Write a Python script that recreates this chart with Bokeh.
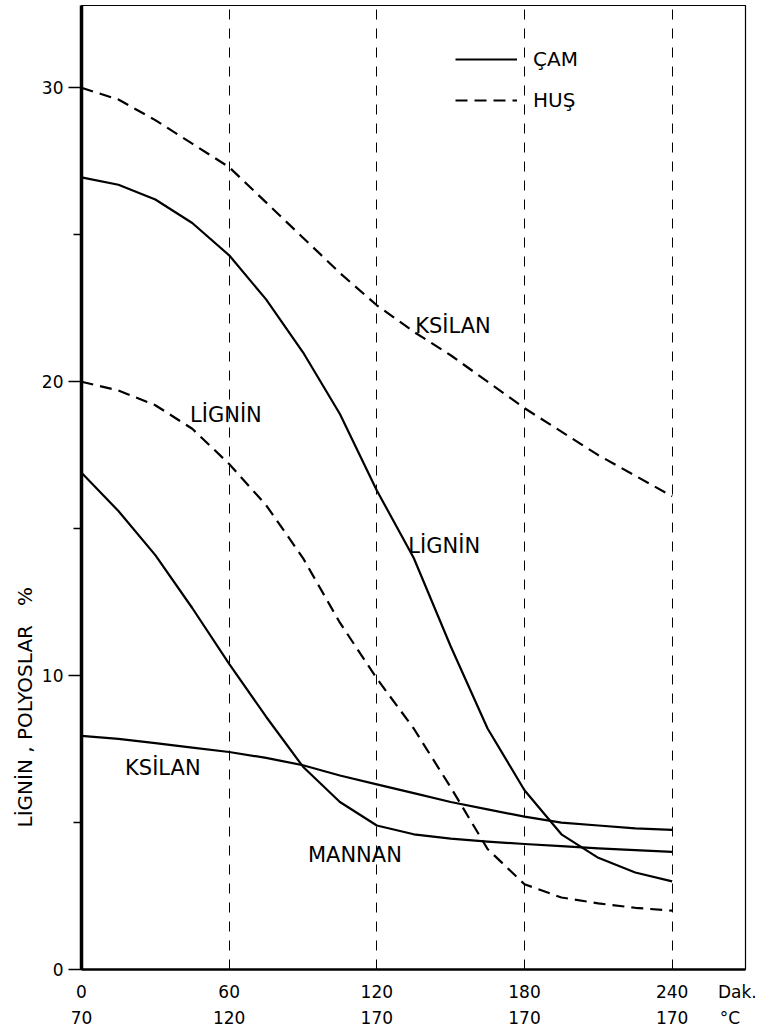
from bokeh.plotting import figure
from bokeh.models import (Range1d, LinearAxis, FixedTicker, Grid, Legend,
                          LegendItem, ColumnDataSource, Title)
from bokeh.core.properties import value
from bokeh.embed import file_html
from bokeh.resources import INLINE

# ---------------- data ----------------
minutes = [0, 15, 30, 45, 60, 75, 90, 105, 120, 135, 150, 165, 180, 195, 210, 225, 240]

hus_ksilan = [30.0, 29.6, 28.9, 28.1, 27.3, 26.1, 24.9, 23.7, 22.6, 21.7, 20.9, 20.0, 19.1, 18.3, 17.5, 16.8, 16.1]
cam_lignin = [26.95, 26.7, 26.2, 25.4, 24.3, 22.8, 21.0, 18.9, 16.3, 14.0, 11.0, 8.2, 6.1, 4.6, 3.8, 3.3, 3.0]
hus_lignin = [20.0, 19.7, 19.2, 18.4, 17.2, 15.8, 14.0, 11.8, 9.9, 8.2, 6.2, 4.1, 2.9, 2.45, 2.25, 2.1, 2.0]
cam_mannan = [16.9, 15.6, 14.1, 12.3, 10.4, 8.6, 6.9, 5.7, 4.9, 4.6, 4.45, 4.35, 4.27, 4.2, 4.12, 4.06, 4.0]
cam_ksilan = [7.95, 7.85, 7.7, 7.55, 7.4, 7.2, 6.95, 6.6, 6.3, 6.0, 5.7, 5.45, 5.2, 5.0, 4.9, 4.8, 4.75]

x_ticks = [0, 60, 120, 180, 240]
x_time_labels = ["0", "60", "120", "180", "240"]
x_temp_labels = ["70", "120", "170", "170", "170"]
y_ticks = [0, 10, 20, 30]
y_minor = [5, 15, 25]

series_labels = ["KSİLAN", "LİGNİN", "LİGNİN", "KSİLAN", "MANNAN"]
legend_labels = ["ÇAM", "HUŞ"]
y_title = "LİGNİN , POLYOSLAR\u00a0\u00a0\u00a0%"

# ---------------- figure ----------------
FONT = "DejaVu Sans"
p = figure(frame_width=664, frame_height=964,
           min_border_left=81, min_border_right=22, min_border_top=5, min_border_bottom=59,
           x_range=Range1d(0, 269.8), y_range=Range1d(0, 32.8),
           x_axis_type=None, y_axis_type=None,
           output_backend="svg", toolbar_location=None)
p.background_fill_color = "white"
p.border_fill_color = "white"
p.outline_line_color = "black"
p.outline_line_width = 1.2

# vertical dashed reference lines
grid = Grid(dimension=0, ticker=FixedTicker(ticks=x_ticks[1:]))
grid.grid_line_color = "black"
grid.grid_line_width = 1
grid.grid_line_dash = "10 9"
p.add_layout(grid)

# y axis
yax = LinearAxis(ticker=FixedTicker(ticks=y_ticks, minor_ticks=y_minor))
yax.axis_line_width = 3.5
yax.axis_line_color = "black"
yax.major_tick_out = 13
yax.major_tick_in = 0
yax.minor_tick_out = 8
yax.minor_tick_in = 0
yax.major_tick_line_width = 1.5
yax.minor_tick_line_width = 1.5
yax.major_label_standoff = 5
yax.major_label_text_font = FONT
yax.major_label_text_font_size = "17px"
yax.major_label_text_color = "black"
p.add_layout(yax, "left")

# y axis title
p.add_layout(Title(text=y_title, align="left", offset=142, text_font=FONT,
                   text_font_size="20px", text_font_style="normal",
                   text_color="black", standoff=4), "left")

# x axis: minutes row
dak_pos = 266.5
xax = LinearAxis(ticker=FixedTicker(ticks=x_ticks + [dak_pos]))
over1 = {t: s for t, s in zip(x_ticks, x_time_labels)}
over1[dak_pos] = "Dak."
xax.major_label_overrides = over1
xax.axis_line_width = 2.5
xax.axis_line_color = "black"
xax.major_tick_out = 0
xax.major_tick_in = 0
xax.minor_tick_out = 0
xax.minor_tick_in = 0
xax.major_label_standoff = 12
xax.major_label_text_font = FONT
xax.major_label_text_font_size = "17px"
xax.major_label_text_color = "black"
p.add_layout(xax, "below")

# x axis: temperature row
cpos = 263.5
xax2 = LinearAxis(ticker=FixedTicker(ticks=x_ticks + [cpos]))
over2 = {t: s for t, s in zip(x_ticks, x_temp_labels)}
over2[cpos] = "°C"
xax2.major_label_overrides = over2
xax2.axis_line_color = None
xax2.major_tick_out = 0
xax2.major_tick_in = 0
xax2.minor_tick_out = 0
xax2.minor_tick_in = 0
xax2.major_label_standoff = 3
xax2.major_label_text_font = FONT
xax2.major_label_text_font_size = "17px"
xax2.major_label_text_color = "black"
p.add_layout(xax2, "below")

# ---------------- curves ----------------
LW = 2.2
DASH = "12 7"
r_hk = p.line(minutes, hus_ksilan, line_color="black", line_width=LW, line_dash=DASH,
              line_join="round")
r_cl = p.line(minutes, cam_lignin, line_color="black", line_width=LW, line_join="round")
r_hl = p.line(minutes, hus_lignin, line_color="black", line_width=LW, line_dash=DASH,
              line_join="round")
r_cm = p.line(minutes, cam_mannan, line_color="black", line_width=LW, line_join="round")
r_ck = p.line(minutes, cam_ksilan, line_color="black", line_width=LW, line_join="round")

# curve labels (annotation positions)
lab_x = [135.6, 44.1, 132.8, 17.7, 92.0]
lab_y = [21.9, 18.85, 14.4, 6.84, 3.9]
src = ColumnDataSource(dict(x=lab_x, y=lab_y, t=series_labels))
p.text(x="x", y="y", text="t", source=src, text_font=value(FONT),
       text_font_size="21px", text_color="black", text_align="left",
       text_baseline="middle")

# legend
legend = Legend(items=[LegendItem(label=legend_labels[0], renderers=[r_cl]),
                       LegendItem(label=legend_labels[1], renderers=[r_hl])],
                location=(374, 857))
legend.glyph_width = 62
legend.glyph_height = 20
legend.label_height = 20
legend.label_standoff = 16
legend.spacing = 17
legend.padding = 0
legend.margin = 0
legend.border_line_color = None
legend.background_fill_alpha = 0
legend.label_text_font = FONT
legend.label_text_font_size = "20px"
legend.label_text_color = "black"
p.add_layout(legend, "center")

open("out.html", "w").write(file_html(p, INLINE))
